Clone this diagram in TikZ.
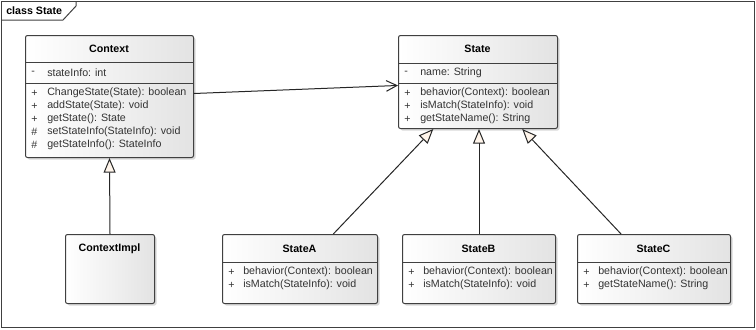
\documentclass[tikz,border=0pt]{standalone}
\usepackage{fontspec}
\setmainfont{Liberation Sans}
\usetikzlibrary{arrows.meta,positioning,shadows}

\begin{document}
\begin{tikzpicture}[x=0.75pt, y=-0.75pt,
  font=\fontsize{8}{9.6}\selectfont,
  cls/.style 2 args={draw=black!75, line width=0.75pt, rounded corners=1.5pt, anchor=north west,
    inner sep=0pt, minimum width=#1*0.75pt, minimum height=#2*0.75pt,
    left color=white, right color=black!11,
    drop shadow={shadow xshift=1.5pt, shadow yshift=-1.5pt, opacity=0.3}},
  cname/.style={font=\fontsize{8}{9.6}\selectfont\bfseries, inner sep=0pt},
  mem/.style={anchor=west, inner sep=0pt, text=black!80},
  sep/.style={draw=black!75, line width=0.75pt},
  frame/.style={draw=black!75, line width=0.75pt},
  assoc/.style={-{Straight Barb[length=8pt, width=8pt]}, draw=black!85, line width=0.75pt},
  gen/.style={-{Triangle[open, length=11pt, width=9pt, fill=orange!8]}, draw=black!85, line width=0.75pt},
]
\useasboundingbox (0,0) rectangle (756,329);

% frame with tab
\draw[frame] (1,1) rectangle (754,327);
\draw[frame] (1,20) -- (63,20) -- (76,6) -- (76,1);
\node[cname, anchor=west] (title) at (6,11) {class State};

% classes
\node[cls={168}{122}] (ctx) at (25,35) {};
\node[cls={159}{93}] (st) at (398,35) {};
\node[cls={89}{69}] (ctximpl) at (65,234) {};
\node[cls={155}{69}] (sa) at (222,234) {};
\node[cls={153}{69}] (sb) at (402,234) {};
\node[cls={153}{69}] (sc) at (577,234) {};

\node[cname] (ctx-name) at (109,49) {Context};
\node[cname] (st-name) at (477.5,49) {State};
\node[cname] (ctximpl-name) at (109.5,249) {ContextImpl};
\node[cname] (sa-name) at (299.5,249) {StateA};
\node[cname] (sb-name) at (478.5,249) {StateB};
\node[cname] (sc-name) at (653.5,249) {StateC};

% compartments
\draw[sep] (ctx.west |- 0,62) -- (ctx.east |- 0,62);
\draw[sep] (ctx.west |- 0,83) -- (ctx.east |- 0,83);
\draw[sep] (st.west |- 0,63) -- (st.east |- 0,63);
\draw[sep] (st.west |- 0,83) -- (st.east |- 0,83);
\draw[sep] (sa.west |- 0,262) -- (sa.east |- 0,262);
\draw[sep] (sb.west |- 0,262) -- (sb.east |- 0,262);
\draw[sep] (sc.west |- 0,262) -- (sc.east |- 0,262);

% members
\foreach \i/\y/\v/\t in {0/73/-/stateInfo: int,
    1/93/+/ChangeState(State): boolean,
    2/106/+/addState(State): void,
    3/119/+/getState(): State,
    4/132/\#/setStateInfo(StateInfo): void,
    5/145/\#/getStateInfo(): StateInfo} {
  \node[mem] (ctx-v\i) at (31,\y) {\v};
  \node[mem] (ctx-m\i) at (47,\y) {\t};
}
\foreach \i/\y/\v/\t in {0/73/-/name: String,
    1/93/+/behavior(Context): boolean,
    2/106/+/isMatch(StateInfo): void,
    3/119/+/getStateName(): String} {
  \node[mem] (st-v\i) at (404,\y) {\v};
  \node[mem] (st-m\i) at (420,\y) {\t};
}
\foreach \c/\x/\i/\t in {sa/228/1/behavior(Context): boolean,
    sa/228/2/isMatch(StateInfo): void,
    sb/408/1/behavior(Context): boolean,
    sb/408/2/isMatch(StateInfo): void,
    sc/583/1/behavior(Context): boolean,
    sc/583/2/getStateName(): String} {
  \node[mem] (\c-v\i) at (\x,259+13*\i) {+};
  \node[mem] (\c-m\i) at (\x+15,259+13*\i) {\t};
}

% relations
\draw[assoc] ([yshift=2.25pt]ctx.east) -- ([yshift=-2.6pt]st.west);
\draw[gen] (ctximpl.north) -- (ctx.south);
\draw[gen] (sa) -- (st);
\draw[gen] (sb.north) -- (sb.north |- st.south);
\draw[gen] (sc) -- (st);
\end{tikzpicture}
\end{document}
